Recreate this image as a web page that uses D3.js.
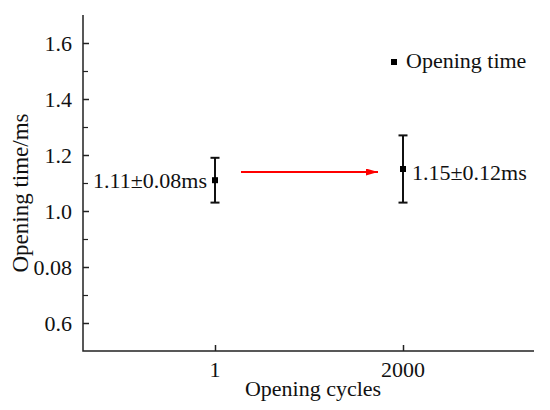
<!DOCTYPE html>
<html>
<head>
<meta charset="utf-8">
<script src="https://cdn.jsdelivr.net/npm/d3@7"></script>
<style>
    body { margin: 0; background: #fff; }
    text { font-family: "Liberation Serif", "Times New Roman", serif; fill: #111; }
</style>
</head>
<body>
<svg id="chart" width="550" height="410"></svg>
<script>
const cycles = ["1", "2000"];
const meanTime = [1.11, 1.15];
const errTime = [0.08, 0.12];
const pointLabels = ["1.11\u00b10.08ms", "1.15\u00b10.12ms"];
const yTickValues = [0.6, 0.8, 1.0, 1.2, 1.4, 1.6];
const yTickLabels = ["0.6", "0.08", "1.0", "1.2", "1.4", "1.6"];
const yMinorTicks = [0.7, 0.9, 1.1, 1.3, 1.5];

const svg = d3.select("#chart");
const M = {left: 83, right: 534, top: 15, bottom: 351};
const FS = "22px";

// the two categories sit at fixed spots inside the plot
const x = d3.scalePoint()
    .domain(cycles)
    .range([215, 403]);

const y = d3.scaleLinear().domain([0.5, 1.7]).range([M.bottom, M.top]);

const axisColor = "#222";

// y axis (ticks inward)
const gy = svg.append("g")
    .attr("transform", `translate(${M.left},0)`)
    .call(d3.axisRight(y).tickValues(yTickValues).tickSize(6).tickFormat(""));
gy.select(".domain").remove();
gy.selectAll(".tick line").attr("stroke", axisColor).attr("stroke-width", 1.5);

const gyMinor = svg.append("g")
    .attr("transform", `translate(${M.left},0)`)
    .call(d3.axisRight(y).tickValues(yMinorTicks).tickSize(5).tickFormat(""));
gyMinor.select(".domain").remove();
gyMinor.selectAll(".tick line").attr("stroke", axisColor).attr("stroke-width", 1.2);

svg.selectAll(".ylab")
    .data(yTickValues)
    .join("text")
    .attr("class", "ylab")
    .attr("x", M.left - 11)
    .attr("y", d => y(d))
    .attr("dy", "0.35em")
    .attr("text-anchor", "end")
    .style("font-size", FS)
    .text((d, i) => yTickLabels[i]);

// x axis ticks inward
const gx = svg.append("g")
    .attr("transform", `translate(0,${M.bottom})`)
    .call(d3.axisTop(x).tickSize(6).tickFormat(""));
gx.select(".domain").remove();
gx.selectAll(".tick line").attr("stroke", axisColor).attr("stroke-width", 1.5);

svg.selectAll(".xlab")
    .data(cycles)
    .join("text")
    .attr("class", "xlab")
    .attr("x", d => x(d))
    .attr("y", 377)
    .attr("text-anchor", "middle")
    .style("font-size", FS)
    .text(d => d);

// axis lines
svg.append("path")
    .attr("d", `M${M.left},${M.top}V${M.bottom}H${M.right}`)
    .attr("fill", "none")
    .attr("stroke", axisColor)
    .attr("stroke-width", 1.5);

// titles
svg.append("text")
    .attr("x", 313)
    .attr("y", 396)
    .attr("text-anchor", "middle")
    .style("font-size", FS)
    .text("Opening cycles");

svg.append("text")
    .attr("transform", `translate(28,${(M.top + M.bottom) / 2 + 10}) rotate(-90)`)
    .attr("text-anchor", "middle")
    .style("font-size", "23px")
    .text("Opening time/ms");

// error bars
const cap = 4.5;
const eb = svg.selectAll(".eb")
    .data(meanTime)
    .join("g")
    .attr("class", "eb");
eb.append("line")
    .attr("x1", (d, i) => x(cycles[i])).attr("x2", (d, i) => x(cycles[i]))
    .attr("y1", (d, i) => y(d - errTime[i])).attr("y2", (d, i) => y(d + errTime[i]));
eb.append("line")
    .attr("x1", (d, i) => x(cycles[i]) - cap).attr("x2", (d, i) => x(cycles[i]) + cap)
    .attr("y1", (d, i) => y(d + errTime[i])).attr("y2", (d, i) => y(d + errTime[i]));
eb.append("line")
    .attr("x1", (d, i) => x(cycles[i]) - cap).attr("x2", (d, i) => x(cycles[i]) + cap)
    .attr("y1", (d, i) => y(d - errTime[i])).attr("y2", (d, i) => y(d - errTime[i]));
eb.selectAll("line").attr("stroke", "#111").attr("stroke-width", 2);

svg.selectAll(".pt")
    .data(meanTime)
    .join("rect")
    .attr("class", "pt")
    .attr("x", (d, i) => x(cycles[i]) - 3)
    .attr("y", d => y(d) - 3)
    .attr("width", 6)
    .attr("height", 6)
    .attr("fill", "#000");

// value labels
svg.append("text")
    .attr("x", x(cycles[0]) - 8)
    .attr("y", y(meanTime[0]))
    .attr("dy", "0.35em")
    .attr("text-anchor", "end")
    .style("font-size", FS)
    .text(pointLabels[0]);
svg.append("text")
    .attr("x", x(cycles[1]) + 9)
    .attr("y", y(meanTime[1]) + 3)
    .attr("dy", "0.35em")
    .attr("text-anchor", "start")
    .style("font-size", FS)
    .text(pointLabels[1]);

// red arrow
const arrowY = 172;
svg.append("defs").append("marker")
    .attr("id", "head")
    .attr("viewBox", "0 0 10 10")
    .attr("refX", 10).attr("refY", 5)
    .attr("markerWidth", 6).attr("markerHeight", 3.5)
    .attr("markerUnits", "strokeWidth")
    .attr("orient", "auto")
    .attr("preserveAspectRatio", "none")
    .append("path")
    .attr("d", "M0,0L10,5L0,10Z")
    .attr("fill", "#f00");
svg.append("line")
    .attr("x1", 241).attr("x2", 378)
    .attr("y1", arrowY).attr("y2", arrowY)
    .attr("stroke", "#f00")
    .attr("stroke-width", 2)
    .attr("marker-end", "url(#head)");

// legend
svg.append("rect")
    .attr("x", 391).attr("y", 59)
    .attr("width", 6).attr("height", 6)
    .attr("fill", "#000");
svg.append("text")
    .attr("x", 406)
    .attr("y", 68)
    .style("font-size", FS)
    .text("Opening time");
</script>
</body>
</html>
